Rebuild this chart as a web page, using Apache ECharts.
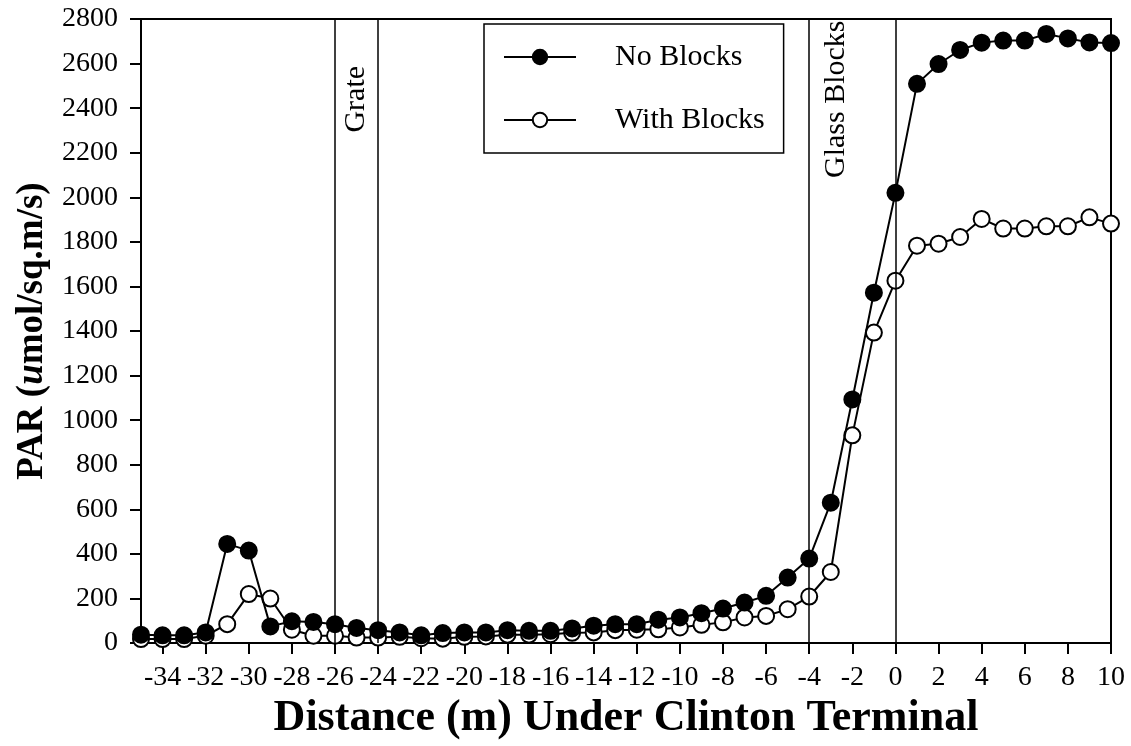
<!DOCTYPE html>
<html>
<head>
<meta charset="utf-8">
<script src="https://cdn.jsdelivr.net/npm/echarts@6/dist/echarts.min.js"></script>
<style>
  html, body { margin: 0; padding: 0; background: #fff; }
  #chart { width: 1131px; height: 746px; }
</style>
</head>
<body>
<div id="chart"></div>
<script>
// distance under the terminal (m), one reading per metre
const distances = [
  -35, -34, -33, -32, -31, -30, -29, -28, -27, -26,
  -25, -24, -23, -22, -21, -20, -19, -18, -17, -16,
  -15, -14, -13, -12, -11, -10, -9, -8, -7, -6,
  -5, -4, -3, -2, -1, 0, 1, 2, 3, 4,
  5, 6, 7, 8, 9, 10
];
const noBlocks = [
  38, 35, 35, 48, 445, 415, 75, 98, 95, 85,
  68, 58, 48, 35, 45, 48, 48, 58, 55, 55,
  66, 78, 85, 85, 105, 115, 134, 155, 182, 212,
  294, 379, 630, 1093, 1572, 2020, 2509, 2598, 2661, 2694,
  2703, 2703, 2733, 2713, 2695, 2692
];
const withBlocks = [
  18, 18, 18, 33, 85, 220, 200, 60, 33, 33,
  25, 25, 28, 22, 20, 28, 30, 38, 38, 40,
  46, 48, 58, 60, 62, 70, 82, 93, 115, 122,
  152, 209, 319, 932, 1393, 1626, 1783, 1792, 1822, 1903,
  1860, 1860, 1870, 1870, 1910, 1882
];
const xTickValues = [-34, -32, -30, -28, -26, -24, -22, -20, -18, -16, -14, -12, -10, -8, -6, -4, -2, 0, 2, 4, 6, 8, 10];
const markerLines = [-26, -24, -4, 0];
const zoneLabels = [
  { text: 'Grate', x: -25, y: 2440 },
  { text: 'Glass Blocks', x: -2.75, y: 2440 }
];

const font = 'Liberation Serif';
const chart = echarts.init(document.getElementById('chart'));

const pair = (vals) => distances.map((d, i) => [d, vals[i]]);

chart.setOption({
  animation: false,
  backgroundColor: '#fff',
  grid: {
    left: 141, right: 20, top: 19, bottom: 102,
    show: true, borderColor: '#000', borderWidth: 2
  },
  legend: {
    data: ['No Blocks', 'With Blocks'],
    orient: 'vertical',
    left: 484, top: 24,
    backgroundColor: '#fff',
    borderColor: '#000', borderWidth: 1.5,
    padding: [18, 19, 18, 19],
    itemWidth: 72, itemHeight: 18, itemGap: 33,
    textStyle: { fontFamily: font, fontSize: 30, color: '#000', padding: [0, 0, 0, 34] }
  },
  xAxis: {
    type: 'value',
    min: -35, max: 10,
    axisLine: { onZero: false, lineStyle: { color: '#000', width: 2 } },
    axisTick: { customValues: xTickValues, length: 11, lineStyle: { color: '#000', width: 2 } },
    axisLabel: { customValues: xTickValues, margin: 21, fontFamily: font, fontSize: 28, color: '#000' },
    splitLine: { show: false },
    name: 'Distance (m) Under Clinton Terminal',
    nameLocation: 'middle',
    nameGap: 48,
    nameTextStyle: { fontFamily: font, fontSize: 44, fontWeight: 'bold', color: '#000' }
  },
  yAxis: {
    type: 'value',
    min: 0, max: 2800, interval: 200,
    axisLine: { show: true, onZero: false, lineStyle: { color: '#000', width: 2 } },
    axisTick: { show: true, length: 11, lineStyle: { color: '#000', width: 2 } },
    axisLabel: { margin: 23, fontFamily: font, fontSize: 28, color: '#000', formatter: v => String(v) },
    splitLine: { show: false },
    name: '{b|PAR (}{i|u}{b|mol/sq.m/s)}',
    nameLocation: 'middle',
    nameGap: 84,
    nameTextStyle: {
      color: '#000',
      rich: {
        b: { fontFamily: font, fontSize: 37, fontWeight: 'bold', color: '#000' },
        i: { fontFamily: font, fontSize: 37, fontWeight: 'bold', fontStyle: 'italic', color: '#000' }
      }
    }
  },
  series: [
    {
      // reference lines only
      type: 'line',
      data: [],
      z: 1,
      markLine: {
        silent: true,
        symbol: 'none',
        label: { show: false },
        lineStyle: { color: '#000', width: 1.5, type: 'solid' },
        data: markerLines.map(v => ({ xAxis: v }))
      }
    },
    {
      name: 'With Blocks',
      type: 'line',
      data: pair(withBlocks),
      z: 3,
      symbol: 'circle',
      symbolSize: 16,
      lineStyle: { color: '#000', width: 2 },
      itemStyle: { color: '#fff', borderColor: '#000', borderWidth: 2 }
    },
    {
      name: 'No Blocks',
      type: 'line',
      data: pair(noBlocks),
      z: 4,
      symbol: 'circle',
      symbolSize: 16,
      lineStyle: { color: '#000', width: 2 },
      itemStyle: { color: '#000', borderColor: '#000', borderWidth: 2 }
    }
  ]
});

// vertical zone captions next to the reference lines
chart.setOption({
  graphic: zoneLabels.map(l => {
    const p = chart.convertToPixel({ xAxisIndex: 0, yAxisIndex: 0 }, [l.x, l.y]);
    return {
      type: 'text',
      x: p[0], y: p[1],
      rotation: Math.PI / 2,
      z: 10,
      style: {
        text: l.text,
        fontFamily: font, fontSize: 30, fill: '#000',
        align: 'center', verticalAlign: 'middle'
      }
    };
  })
});
</script>
</body>
</html>
